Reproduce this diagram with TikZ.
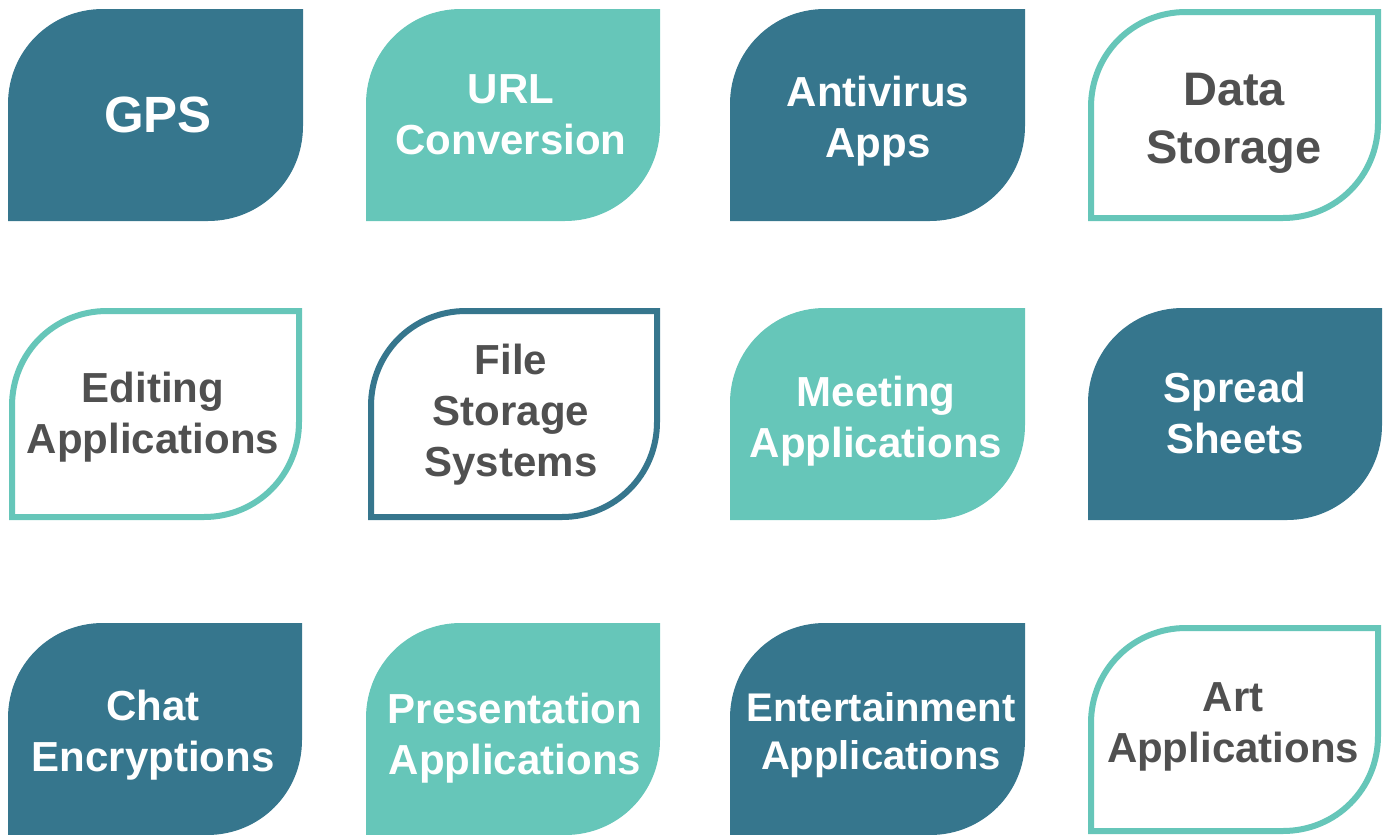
\documentclass[tikz,border=0pt]{standalone}
\usepackage{fontspec}
\setmainfont{Liberation Sans}
\usepackage{tikz}
\definecolor{tealdark}{HTML}{36768D}
\definecolor{teallight}{HTML}{66C6B9}
\definecolor{txtgray}{HTML}{505050}
\newcommand{\leafshape}[5]{%
    \path[#1] (#2,#5) -- (#2,#3+95) .. controls (#2,#3+42) and (#2+42,#3) .. (#2+95,#3)
        -- (#4,#3) -- (#4,#5-95) .. controls (#4,#5-42) and (#4-42,#5) .. (#4-95,#5) -- cycle;}
\tikzset{
    darkleaf/.style={fill=tealdark},
    lightleaf/.style={fill=teallight},
    darkrim/.style={draw=tealdark, line width=3pt, fill=white},
    lightrim/.style={draw=teallight, line width=3pt, fill=white},
    lbl/.style={align=center, text=white, font=\bfseries\fontsize{21}{25.5}\selectfont},
    graylbl/.style={lbl, text=txtgray},
}

\begin{document}
\begin{tikzpicture}[x=0.5pt, y=-0.5pt]
        \useasboundingbox (0,0) rectangle (1387,835);
        \leafshape{darkleaf}{8}{9}{303}{221}
        \leafshape{lightleaf}{366}{9}{660}{221}
        \leafshape{darkleaf}{730}{9}{1025}{221}
        \leafshape{lightrim}{1091}{12}{1378}{218}
        \node[lbl, font=\bfseries\fontsize{25.5}{30}\selectfont] (gps) at (158,115) {GPS};
        \node[lbl] (url) at (511,115) {URL\\Conversion};
        \node[lbl] (antivirus) at (878,121) {Antivirus\\Apps};
        \node[graylbl, font=\bfseries\fontsize{23.5}{29}\selectfont] (datastore) at (1234,123) {Data\\Storage};
        %%%
        \leafshape{lightrim}{12}{311}{299}{517}
        \leafshape{darkrim}{371}{311}{657}{517}
        \leafshape{lightleaf}{730}{308}{1025}{520}
        \leafshape{darkleaf}{1088}{308}{1382}{520}
        \node[graylbl] (editing) at (153,417) {Editing\\Applications};
        \node[graylbl] (filestore) at (511,415) {File\\Storage\\Systems};
        \node[lbl] (meeting) at (876,421) {Meeting\\Applications};
        \node[lbl] (spread) at (1235,413) {Spread\\Sheets};
        %%%
        \leafshape{darkleaf}{8}{623}{302}{835}
        \leafshape{lightleaf}{366}{623}{660}{835}
        \leafshape{darkleaf}{730}{623}{1025}{835}
        \leafshape{lightrim}{1091}{628}{1378}{831}
        \node[lbl] (chat) at (153,735) {Chat\\Encryptions};
        \node[lbl] (present) at (515,738) {Presentation\\Applications};
        \node[lbl, font=\bfseries\fontsize{20}{24}\selectfont] (entertain) at (881,735) {Entertainment\\Applications};
        \node[graylbl] (art) at (1233,727) {Art\\Applications};
\end{tikzpicture}
\end{document}
